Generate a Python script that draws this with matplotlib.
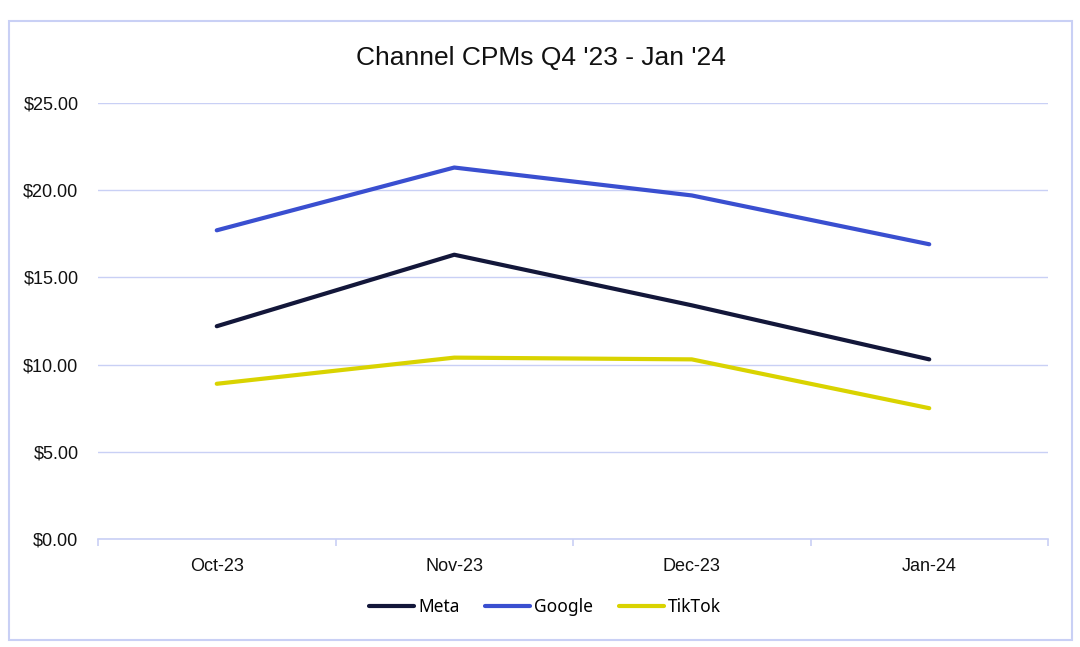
import matplotlib.pyplot as plt
from matplotlib.patches import Rectangle
from matplotlib.ticker import FuncFormatter, FixedLocator

# data
months = ["Oct-23", "Nov-23", "Dec-23", "Jan-24"]
meta = [12.2, 16.3, 13.4, 10.3]
google = [17.7, 21.3, 19.7, 16.9]
tiktok = [8.9, 10.4, 10.3, 7.5]

grid_col = "#c9d0f5"

fig = plt.figure(figsize=(10.8, 6.47), dpi=100)
W, H = 1080, 647

# outer chart frame
fig.patches.append(Rectangle((9 / W, 1 - 640 / H), (1072 - 9) / W, (640 - 21) / H,
                             transform=fig.transFigure, fill=False,
                             edgecolor=grid_col, linewidth=1.5))

ax = fig.add_axes([98 / W, 1 - 539 / H, (1048 - 98) / W, (539 - 103) / H])
x = list(range(len(months)))

ax.plot(x, meta, color="#13173a", lw=3, label="Meta", solid_capstyle="round")
ax.plot(x, google, color="#3a4fd0", lw=3, label="Google", solid_capstyle="round")
ax.plot(x, tiktok, color="#d9d300", lw=3, label="TikTok", solid_capstyle="round")

ax.set_xlim(-0.5, len(months) - 0.5)
ax.set_ylim(0, 25)
ax.set_yticks([0, 5, 10, 15, 20, 25])
ax.yaxis.set_major_formatter(FuncFormatter(lambda v, p: f"${v:.2f}"))
ax.grid(axis="y", color=grid_col, lw=1)
ax.set_axisbelow(True)

for s in ["top", "right", "left"]:
    ax.spines[s].set_visible(False)
ax.spines["bottom"].set_color(grid_col)
ax.spines["bottom"].set_linewidth(1.2)

# category labels centred, tick marks at category boundaries
ax.set_xticks(x)
ax.set_xticklabels(months)
ax.tick_params(axis="x", which="major", length=0, pad=14, labelsize=13)
ax.xaxis.set_minor_locator(FixedLocator([-0.5, 0.5, 1.5, 2.5, 3.5]))
ax.tick_params(axis="x", which="minor", length=5, color=grid_col, width=1.2, direction="out")
ax.tick_params(axis="y", length=0, pad=14, labelsize=13)
for lab in ax.get_xticklabels() + ax.get_yticklabels():
    lab.set_fontfamily("Liberation Sans")
    lab.set_color("#111111")

fig.text(541 / W, 1 - 58 / H, "Channel CPMs Q4 '23 - Jan '24", ha="center", va="center",
         fontsize=19, fontfamily="Liberation Sans", color="#111111")

ax.legend(loc="center", bbox_to_anchor=(545 / W, 1 - 607 / H), bbox_transform=fig.transFigure,
          ncol=3, frameon=False, handlelength=2.6, handletextpad=0.2, columnspacing=1.5,
          prop={"family": "Noto Sans", "size": 12.5})

fig.savefig("out.png", dpi=100, facecolor="white")
